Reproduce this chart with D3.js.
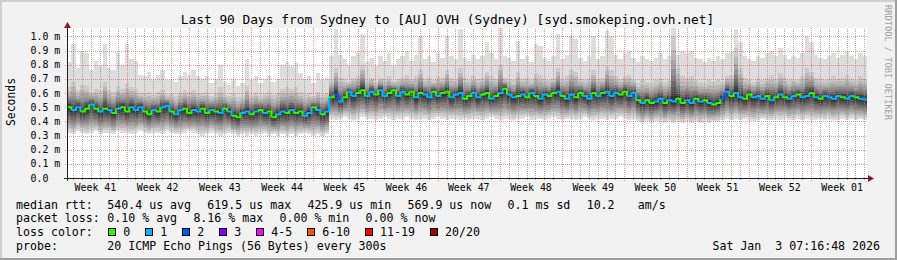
<!DOCTYPE html>
<meta charset="utf-8">
<style>
  body { margin: 0; background: #f2f2f2; }
  text { font-family: "DejaVu Sans Mono", monospace; fill: #000; white-space: pre; }
</style>
<div id="container"></div>
<script src="https://cdn.jsdelivr.net/npm/d3@7/dist/d3.min.js"></script>
<script>

// 90 days, one value every 12 hours (180 values), in ms
const median = [
  0.50,0.48,0.50,0.47,0.49,0.52,0.49,0.47,0.49,0.48,
  0.46,0.49,0.50,0.47,0.50,0.48,0.50,0.47,0.45,0.48,
  0.47,0.50,0.51,0.47,0.45,0.48,0.49,0.46,0.48,0.47,
  0.49,0.46,0.48,0.47,0.46,0.49,0.47,0.44,0.43,0.46,
  0.47,0.45,0.47,0.48,0.46,0.47,0.43,0.45,0.47,0.46,
  0.48,0.46,0.47,0.44,0.46,0.50,0.48,0.45,0.47,0.57,
  0.59,0.54,0.57,0.61,0.58,0.60,0.62,0.58,0.61,0.59,
  0.62,0.58,0.60,0.62,0.58,0.61,0.59,0.61,0.57,0.60,
  0.59,0.57,0.61,0.58,0.60,0.61,0.57,0.59,0.60,0.56,
  0.58,0.60,0.57,0.59,0.60,0.56,0.58,0.60,0.63,0.59,
  0.57,0.58,0.59,0.57,0.60,0.58,0.56,0.59,0.58,0.60,
  0.61,0.58,0.56,0.59,0.57,0.60,0.58,0.56,0.60,0.58,
  0.60,0.61,0.58,0.60,0.59,0.61,0.58,0.60,0.55,0.53,
  0.55,0.53,0.54,0.56,0.53,0.55,0.54,0.56,0.53,0.55,
  0.53,0.56,0.54,0.55,0.53,0.52,0.53,0.56,0.61,0.58,
  0.60,0.57,0.56,0.59,0.57,0.58,0.56,0.58,0.55,0.57,
  0.59,0.57,0.56,0.58,0.59,0.57,0.58,0.60,0.57,0.56,
  0.58,0.57,0.56,0.58,0.57,0.56,0.58,0.57,0.56,0.555
];

// lost pings out of 20 for each median value
const loss = [
  0,1,1,0,0,1,0,1,0,1, 0,1,0,0,1,1,1,0,0,1,
  0,1,1,0,1,1,0,0,1,1, 0,0,1,0,1,0,1,0,0,1,
  1,0,1,0,1,0,0,1,1,0, 1,0,0,1,1,0,1,0,1,0,
  2,1,0,1,1,0,0,1,1,0, 1,1,0,0,1,1,0,0,1,0,
  1,1,0,1,0,0,1,1,1,0, 0,1,1,0,0,1,0,1,0,1,
  1,0,1,0,1,0,1,1,0,0, 1,0,1,1,0,0,1,1,0,1,
  0,1,1,1,0,0,1,1,0,1, 0,0,1,1,0,1,1,0,0,1,
  1,0,1,0,1,0,0,2,1,0, 1,1,0,0,1,1,1,0,1,0,
  1,0,1,1,0,1,1,0,1,0, 1,1,1,1,0,1,1,0,1,1
];

// fastest ping (bottom of the smoke)
const smokeMin = [
  0.32,0.31,0.33,0.32,0.31,0.32,0.33,0.31,0.32,0.32,
  0.31,0.33,0.32,0.32,0.31,0.32,0.33,0.32,0.31,0.32,
  0.32,0.31,0.33,0.32,0.31,0.31,0.32,0.33,0.32,0.31,
  0.30,0.31,0.32,0.31,0.30,0.31,0.32,0.31,0.30,0.31,
  0.30,0.31,0.30,0.31,0.32,0.30,0.31,0.30,0.31,0.30,
  0.31,0.30,0.31,0.32,0.31,0.30,0.31,0.30,0.31,0.42,
  0.41,0.42,0.43,0.42,0.41,0.42,0.43,0.42,0.42,0.41,
  0.42,0.43,0.42,0.41,0.42,0.42,0.43,0.42,0.41,0.42,
  0.42,0.41,0.42,0.43,0.42,0.41,0.42,0.42,0.41,0.42,
  0.41,0.42,0.42,0.41,0.42,0.43,0.42,0.41,0.42,0.42,
  0.41,0.42,0.42,0.43,0.41,0.42,0.42,0.41,0.42,0.43,
  0.42,0.41,0.42,0.42,0.41,0.42,0.43,0.42,0.41,0.42,
  0.42,0.41,0.42,0.42,0.43,0.42,0.41,0.42,0.40,0.39,
  0.40,0.39,0.40,0.40,0.39,0.40,0.39,0.40,0.39,0.40,
  0.39,0.40,0.39,0.40,0.39,0.40,0.40,0.41,0.42,0.41,
  0.42,0.41,0.42,0.41,0.40,0.41,0.42,0.41,0.41,0.42,
  0.41,0.42,0.41,0.41,0.42,0.41,0.42,0.41,0.41,0.42,
  0.41,0.42,0.41,0.41,0.42,0.41,0.42,0.41,0.42,0.41
];

// slowest ping (top of the smoke)
const smokeMax = [
  0.82,0.95,0.78,0.90,0.88,0.76,0.83,0.79,0.95,0.78,
  0.76,0.88,0.80,0.95,0.84,0.83,0.73,0.72,0.75,0.70,
  0.73,0.76,0.69,0.70,0.68,0.72,0.75,0.73,0.76,0.72,
  0.70,0.72,0.67,0.70,0.80,0.68,0.66,0.70,0.65,0.67,
  0.84,0.69,0.72,0.67,0.70,0.72,0.68,0.70,0.80,0.82,
  0.79,0.81,0.74,0.70,0.72,0.67,0.74,0.69,0.71,0.86,
  1.05,0.87,0.84,0.80,0.86,0.88,1.02,0.82,0.85,0.79,
  0.86,0.83,0.88,0.80,0.84,0.86,0.90,0.83,0.87,1.00,
  0.84,0.86,0.82,0.88,0.85,1.00,0.86,0.84,1.05,0.85,
  0.83,0.87,0.84,0.86,0.96,0.88,0.84,1.06,0.86,0.85,
  0.83,0.97,0.84,0.86,0.82,0.95,0.93,0.85,0.83,0.86,
  1.02,0.84,0.87,1.00,0.98,0.85,0.83,0.86,1.00,0.84,
  0.86,1.04,1.00,0.87,0.84,0.88,0.90,0.85,0.82,0.86,
  0.84,0.83,0.85,0.88,0.84,0.86,1.06,0.87,0.90,0.88,
  0.90,0.85,0.84,0.82,0.85,0.83,0.86,0.84,0.88,0.90,
  1.05,0.96,0.86,0.84,0.83,0.86,0.85,0.88,0.90,0.86,
  0.92,0.87,0.84,0.86,0.85,0.88,1.00,0.96,0.87,0.85,
  0.84,0.86,0.88,0.85,0.87,0.90,0.86,0.84,0.88,0.86
];

// upper edge of the dense smoke (~18th of 20 pings)
const smokeUpper = [
  0.64,0.68,0.62,0.66,0.65,0.61,0.63,0.62,0.68,0.62,
  0.61,0.65,0.63,0.67,0.64,0.63,0.60,0.60,0.61,0.59,
  0.61,0.62,0.59,0.60,0.58,0.60,0.62,0.61,0.62,0.60,
  0.60,0.61,0.58,0.60,0.64,0.59,0.58,0.60,0.57,0.58,
  0.65,0.59,0.61,0.58,0.60,0.61,0.59,0.60,0.63,0.64,
  0.63,0.64,0.61,0.59,0.60,0.58,0.61,0.59,0.60,0.70,
  0.78,0.71,0.70,0.68,0.71,0.72,0.80,0.69,0.71,0.68,
  0.71,0.70,0.72,0.68,0.70,0.71,0.73,0.70,0.72,0.77,
  0.70,0.71,0.69,0.72,0.71,0.76,0.71,0.70,0.78,0.71,
  0.69,0.72,0.70,0.71,0.75,0.72,0.70,0.80,0.71,0.70,
  0.69,0.75,0.70,0.71,0.69,0.74,0.73,0.70,0.69,0.71,
  0.78,0.70,0.72,0.76,0.75,0.70,0.69,0.71,0.76,0.70,
  0.71,0.79,0.76,0.72,0.70,0.72,0.73,0.70,0.67,0.69,
  0.68,0.67,0.69,0.70,0.68,0.69,1.00,0.78,0.72,0.71,
  0.72,0.69,0.68,0.67,0.69,0.68,0.69,0.68,0.72,0.73,
  0.92,0.78,0.71,0.69,0.68,0.70,0.69,0.71,0.73,0.70,
  0.74,0.71,0.69,0.70,0.69,0.72,0.78,0.75,0.71,0.70,
  0.69,0.70,0.72,0.70,0.71,0.73,0.70,0.69,0.72,0.70
];

const lossLabels = ["0", "1", "2", "3", "4-5", "6-10", "11-19", "20/20"];
const lossColors = ["#26ff00", "#00b8ff", "#0059ff", "#7e00ff", "#ff00ff", "#ff5500", "#ff0000", "#a10000"];

const rttItems = ["540.4 us avg", "619.5 us max", "425.9 us min", "569.9 us now", "0.1 ms sd", "10.2 ", "am/s"];
const lossItems = ["0.10 % avg", "8.16 % max", "0.00 % min", "0.00 % now"];

const width = 897, height = 260;
const x0 = 67, xsize = 800, y0 = 178, ysize = 150;
const tEnd = Date.UTC(2026, 0, 3, 7, 16, 48);
const tStart = tEnd - 90 * 864e5;
const step = 12 * 3600e3;

const x = d3.scaleUtc().domain([tStart, tEnd]).range([x0, x0 + xsize]);
const y = d3.scaleLinear().domain([0, 1.06]).range([y0, y0 - ysize]);
const px = v => Math.round(v) + 0.5;

const svg = d3.create("svg").attr("width", width).attr("height", height);

// frame
svg.append("rect").attr("width", width).attr("height", height).attr("fill", "#f2f2f2");
svg.append("path").attr("d", `M0,0H${width}V2H2V${height}H0Z`).attr("fill", "#cfcfcf");
svg.append("path").attr("d", `M${width},${height}H0V${height-2}H${width-2}V0H${width}Z`).attr("fill", "#9e9e9e");
svg.append("rect").attr("x", x0).attr("y", y0 - ysize).attr("width", xsize).attr("height", ysize).attr("fill", "#fff");

// smoke: 10 shades from outer pair of pings to the inner pair
const pts = median.map((m, i) => ({ t: tStart + i * step, m, lo: smokeMin[i], hi: smokeMax[i], up: smokeUpper[i] }));
pts.push(Object.assign({}, pts[pts.length - 1], { t: tEnd }));
const fu = [1, 1, 0.8, 0.64, 0.5, 0.4, 0.31, 0.23, 0.15, 0.08];
const fd = [1, 0.9, 0.8, 0.7, 0.6, 0.5, 0.4, 0.3, 0.2, 0.1];
const smoke = svg.append("g").attr("shape-rendering", "crispEdges");
d3.range(10).forEach(k => {
  const g = Math.floor(190 / 10 * (9 - k)) + 50;
  const area = d3.area().curve(d3.curveStepAfter)
    .x(d => x(d.t))
    .y0(d => y(k === 0 ? d.lo : d.m - (d.m - d.lo) * fd[k]))
    .y1(d => y(k === 0 ? d.hi : d.m + (d.up - d.m) * fu[k]));
  smoke.append("path").attr("d", area(pts)).attr("fill", d3.rgb(g, g, g));
});

// grid
const grid = svg.append("g").attr("stroke-width", 1).attr("shape-rendering", "crispEdges");
const sundays = d3.utcSunday.range(tStart, tEnd);
const days = d3.utcDay.range(tStart, tEnd).filter(d => d.getUTCDay() !== 0);
grid.selectAll(".minor").data(days).join("line")
  .attr("x1", d => px(x(d))).attr("x2", d => px(x(d)))
  .attr("y1", y0 + 2).attr("y2", y0 - ysize)
  .attr("stroke", "rgba(143,143,143,0.75)").attr("stroke-dasharray", "1,1");
grid.selectAll(".major").data(sundays).join("line")
  .attr("x1", d => px(x(d))).attr("x2", d => px(x(d)))
  .attr("y1", y0 + 3).attr("y2", y0 - ysize)
  .attr("stroke", "rgba(222,79,79,0.6)").attr("stroke-dasharray", "1,1");
const yTicks = d3.range(1, 11).map(k => k / 10);
grid.selectAll(".hgrid").data(yTicks).join("line")
  .attr("x1", x0 - 2).attr("x2", x0 + xsize)
  .attr("y1", d => px(y(d))).attr("y2", d => px(y(d)))
  .attr("stroke", "rgba(222,79,79,0.6)").attr("stroke-dasharray", "1,1");

// median, coloured by loss
const med = svg.append("g").attr("fill", "none").attr("stroke-width", 2);
median.forEach((m, i) => {
  const xa = x(tStart + i * step), xb = x(tStart + (i + 1) * step);
  const next = i + 1 < median.length ? median[i + 1] : m;
  const c = loss[i] >= 20 ? 7 : loss[i] >= 11 ? 6 : loss[i] >= 6 ? 5 : loss[i] >= 4 ? 4 : loss[i];
  med.append("path").attr("d", `M${xa},${y(m)}H${xb}V${y(next)}`).attr("stroke", lossColors[c]);
});

// axes
const axis = svg.append("g").attr("stroke", "#1f1f1f").attr("shape-rendering", "crispEdges");
axis.append("line").attr("x1", x0 - 3).attr("x2", x0 + xsize + 3).attr("y1", y0 + 0.5).attr("y2", y0 + 0.5);
axis.append("line").attr("x1", x0 + 0.5).attr("x2", x0 + 0.5).attr("y1", y0 + 3).attr("y2", y0 - ysize - 1);
svg.append("path").attr("fill", "#801f1f")
  .attr("d", `M${x0 + xsize + 1},${y0 - 3}L${x0 + xsize + 7},${y0 + 0.5}L${x0 + xsize + 1},${y0 + 4}Z`);
svg.append("path").attr("fill", "#801f1f")
  .attr("d", `M${x0 - 3},${y0 - ysize}L${x0 + 0.5},${y0 - ysize - 6}L${x0 + 4},${y0 - ysize}Z`);

// y labels
svg.selectAll(".ylab").data([0].concat(yTicks)).join("text")
  .attr("x", 30.5).attr("y", d => y(d) + 3.5)
  .attr("font-size", "9.9px")
  .text(d => d === 0 ? "0.0" : d.toFixed(1) + " m");

// week labels, centred on the middle of each week
const weekFmt = d3.utcFormat("%V");
const weeks = d3.utcSunday.range(d3.utcSunday.floor(tStart), tEnd)
  .map(d => new Date(+d + 3.5 * 864e5)).filter(d => +d <= tEnd);
svg.selectAll(".wlab").data(weeks).join("text")
  .attr("x", d => x(d)).attr("y", 191)
  .attr("text-anchor", "middle").attr("font-size", "9.9px")
  .text(d => "Week " + weekFmt(d));

// title and side texts
svg.append("text").attr("x", 447.5).attr("y", 24).attr("text-anchor", "middle")
  .attr("font-size", "12.85px")
  .text("Last 90 Days from Sydney to [AU] OVH (Sydney) [syd.smokeping.ovh.net]");
svg.append("text").attr("transform", "translate(14.5,102) rotate(-90)")
  .attr("text-anchor", "middle").attr("font-size", "11.4px").text("Seconds");
svg.append("text").attr("transform", "translate(884.5,5) rotate(90)")
  .attr("font-size", "8.7px").style("fill", "#a0a0a0").text("RRDTOOL / TOBI OETIKER");

// legend: items follow each other with a fixed gap
const cw = 6.98, gap = 16.3;
const lg = svg.append("g").attr("font-size", "11.6px");
const rowY = k => 208.5 + 13.9 * k;
function row(k, label, items) {
  lg.append("text").attr("x", 16).attr("y", rowY(k)).text(label);
  let lx = 107.3;
  items.forEach(t => {
    lg.append("text").attr("x", lx).attr("y", rowY(k)).text(t);
    lx += t.length * cw + gap;
  });
}
row(0, "median rtt:", rttItems);
row(1, "packet loss:", lossItems);
lg.append("text").attr("x", 16).attr("y", rowY(2)).text("loss color:");
let bx = 108.3;
lossLabels.forEach((l, i) => {
  lg.append("rect").attr("x", Math.round(bx) + 0.5).attr("y", rowY(2) - 8).attr("width", 7).attr("height", 7)
    .attr("fill", lossColors[i]).attr("stroke", "#000").attr("shape-rendering", "crispEdges");
  lg.append("text").attr("x", bx + 15).attr("y", rowY(2)).text(l);
  bx += 30 + l.length * cw;
});
row(3, "probe:", ["20 ICMP Echo Pings (56 Bytes) every 300s"]);
lg.append("text").attr("x", 880).attr("y", rowY(3)).attr("text-anchor", "end").text("Sat Jan  3 07:16:48 2026");

container.append(svg.node());
</script>
